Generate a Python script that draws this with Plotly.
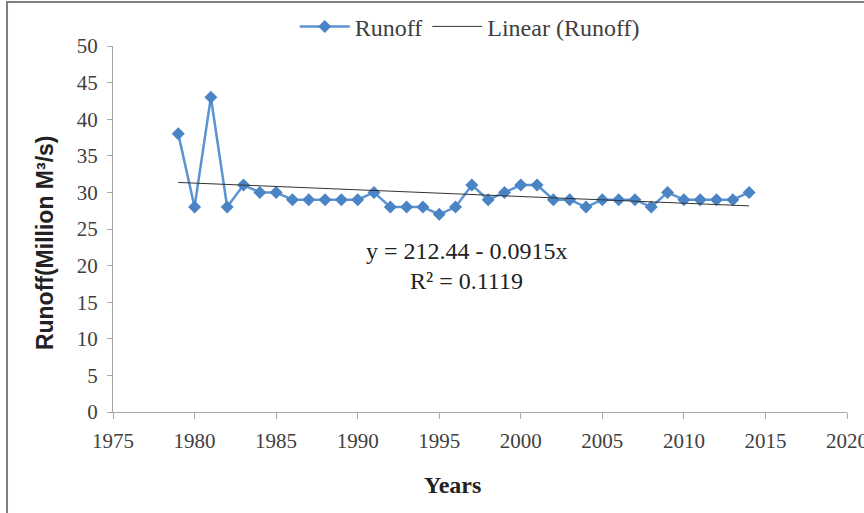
import plotly.graph_objects as go

years = list(range(1979, 2015))
runoff = [38, 28, 43, 28, 31, 30, 30, 29, 29, 29, 29, 29, 30, 28, 28, 28, 27, 28,
          31, 29, 30, 31, 31, 29, 29, 28, 29, 29, 29, 28, 30, 29, 29, 29, 29, 30]
intercept = 212.44
slope = -0.0915
r_squared = 0.1119
trend = [intercept + slope * y for y in years]

x_ticks = [1975, 1980, 1985, 1990, 1995, 2000, 2005, 2010, 2015, 2020]
y_ticks = [0, 5, 10, 15, 20, 25, 30, 35, 40, 45, 50]

serif = "Liberation Serif, Times New Roman, serif"
sans = "Liberation Sans, Arial, sans-serif"

fig = go.Figure()
fig.add_trace(go.Scatter(x=years, y=runoff, mode="lines+markers", name="Runoff",
                         line=dict(color="#5b93d3", width=2.5),
                         marker=dict(symbol="diamond", size=10, color="#4a84c4")))
fig.add_trace(go.Scatter(x=[years[0], years[-1]], y=[trend[0], trend[-1]], mode="lines",
                         name="Linear (Runoff)", line=dict(color="#333333", width=1)))

fig.update_layout(
    width=864, height=513,
    margin=dict(l=113, r=17, t=0, b=101),
    paper_bgcolor="white", plot_bgcolor="white",
    font=dict(family=serif, size=21, color="#404040"),
    legend=dict(orientation="h", x=0.486, xanchor="center", y=0.935, yanchor="middle",
                font=dict(family=serif, size=24, color="#404040"), bgcolor="rgba(0,0,0,0)",
                itemwidth=50),
    showlegend=True,
)
fig.update_xaxes(range=[1975, 2020], tickvals=x_ticks, showgrid=False, zeroline=False,
                 showline=True, linecolor="#a6a6a6", linewidth=1, automargin=False,
                 ticks="outside", ticklen=6, tickcolor="#a6a6a6", ticklabelstandoff=4,
                 ticklabeloverflow="allow",
                 tickfont=dict(family=serif, size=21, color="#404040"))
fig.update_yaxes(range=[0, 50], tickvals=y_ticks, showgrid=False, zeroline=False,
                 domain=[0, 0.8883], automargin=False,
                 showline=True, linecolor="#a6a6a6", linewidth=1,
                 ticks="outside", ticklen=5, tickcolor="#a6a6a6", ticklabelstandoff=5,
                 tickfont=dict(family=serif, size=21, color="#404040"))

fig.add_annotation(x=-0.0926, y=0.41, xref="paper", yref="paper", showarrow=False,
                   xanchor="center", yanchor="middle",
                   textangle=-90, text="<b>Runoff(Million M³/s)</b>",
                   font=dict(family=sans, size=23, color="#222222"))
fig.add_annotation(x=0.463, y=-0.177, xref="paper", yref="paper", showarrow=False,
                   xanchor="center", yanchor="middle",
                   text="<b>Years</b>",
                   font=dict(family=serif, size=24, color="#222222"))

fig.add_annotation(x=1996.7, y=22.0, xref="x", yref="y", showarrow=False,
                   xanchor="center", yanchor="middle",
                   text=f"y = {intercept:.2f} - {abs(slope):.4f}x",
                   font=dict(family=serif, size=24, color="#222222"))
fig.add_annotation(x=1996.7, y=17.9, xref="x", yref="y", showarrow=False,
                   xanchor="center", yanchor="middle",
                   text=f"R² = {r_squared:.4f}",
                   font=dict(family=serif, size=24, color="#222222"))

fig.add_shape(type="rect", xref="paper", yref="paper", x0=-0.1444, x1=1.031, y0=-0.262, y1=0.995,
              line=dict(color="#7f7f7f", width=2), fillcolor="rgba(0,0,0,0)", layer="below")

fig.write_html("out.html", config={"displayModeBar": False},
               post_script="document.body.style.margin='0';")
